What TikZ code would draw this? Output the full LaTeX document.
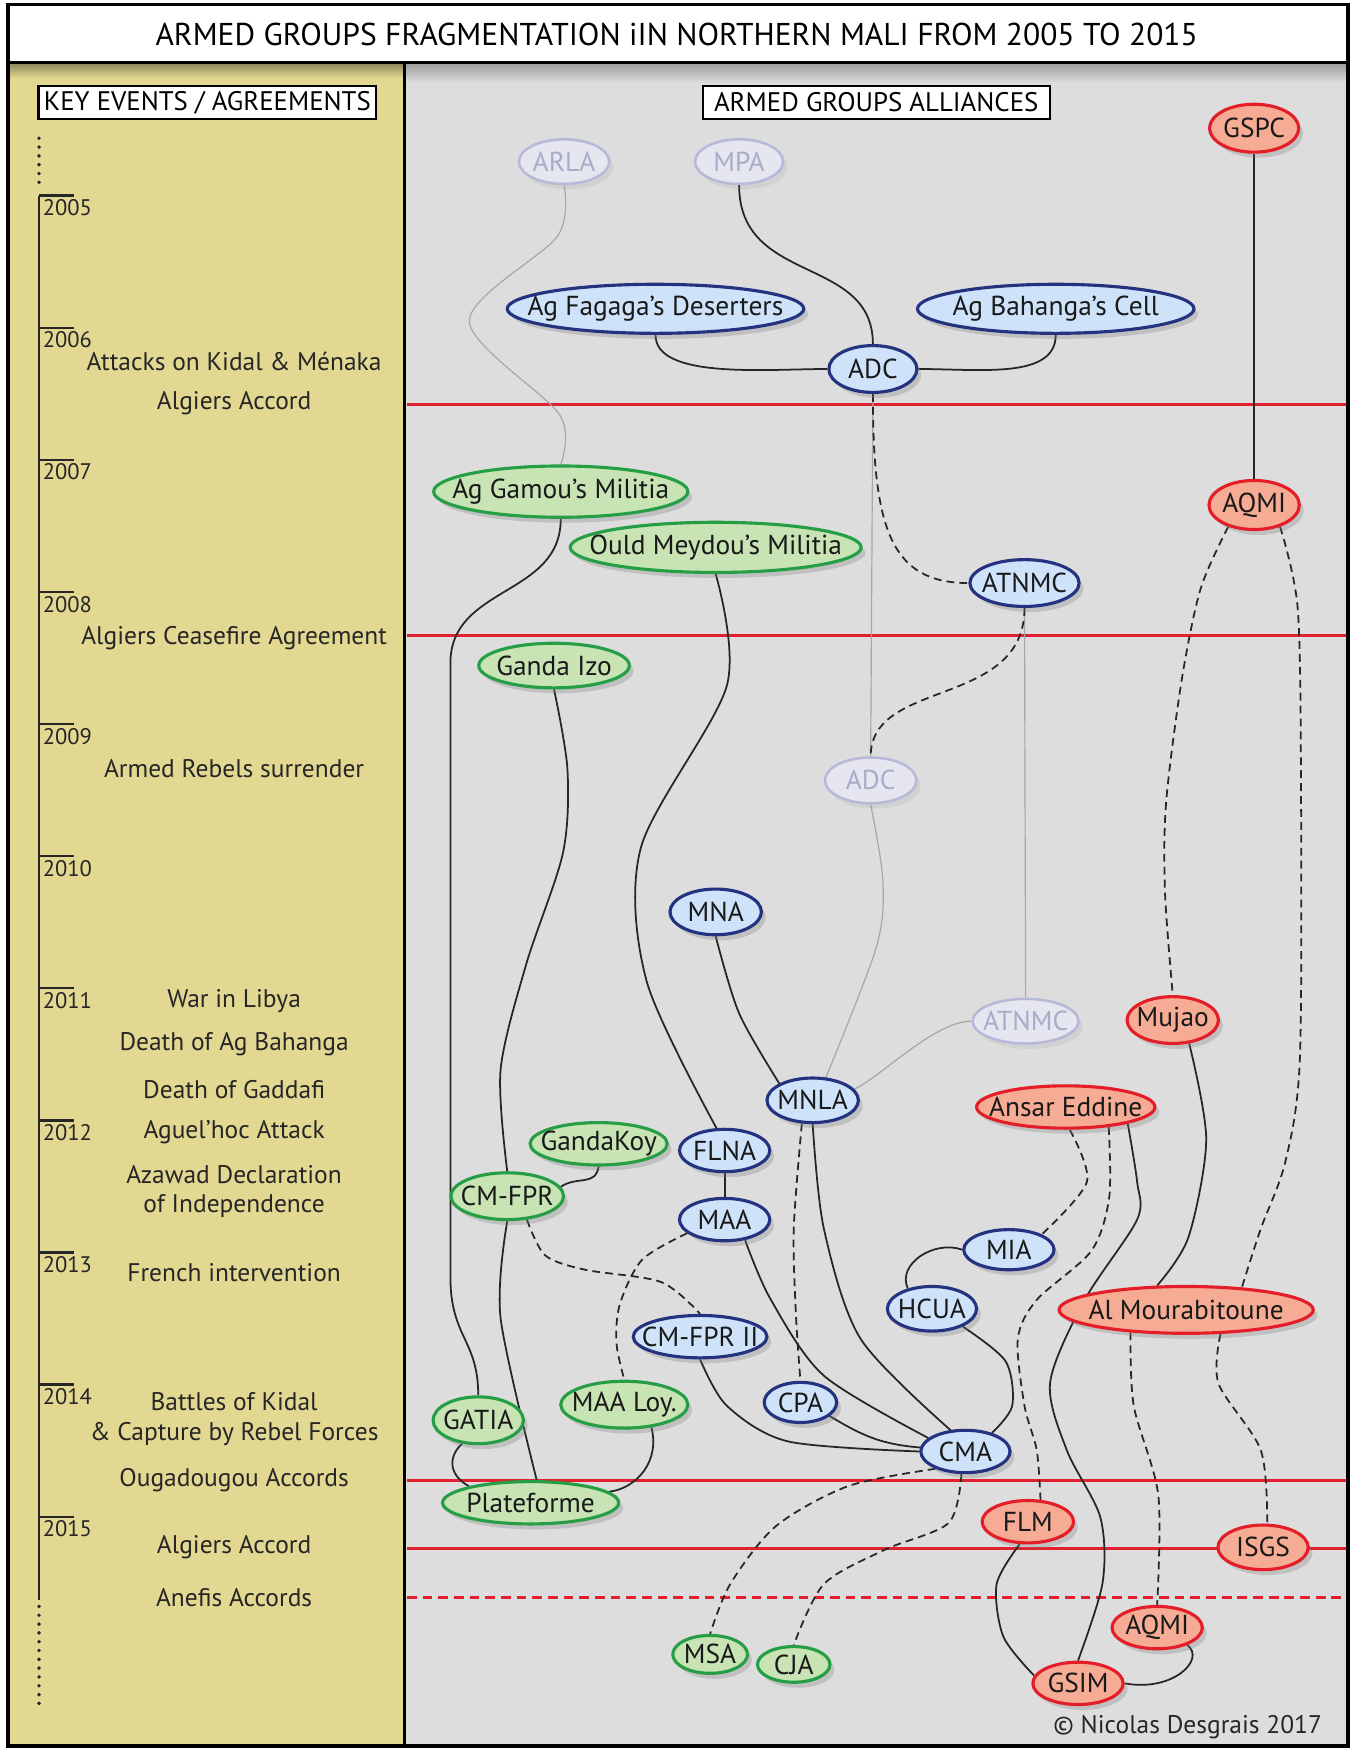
\documentclass[tikz,border=0pt]{standalone}
\usepackage{fontspec}
\setmainfont{PT Sans}
\usetikzlibrary{shapes.geometric,shadows}
\pgfdeclarelayer{panels}
\pgfdeclarelayer{links}
\pgfsetlayers{panels,links,main}

\definecolor{khaki}{RGB}{227,216,146}
\definecolor{panelgray}{RGB}{221,221,221}
\definecolor{blueborder}{RGB}{36,50,128}
\definecolor{bluefill}{RGB}{206,227,250}
\definecolor{greenborder}{RGB}{38,158,70}
\definecolor{greenfill}{RGB}{200,227,180}
\definecolor{redborder}{RGB}{228,30,40}
\definecolor{redfill}{RGB}{246,172,148}
\definecolor{fadeborder}{RGB}{182,186,216}
\definecolor{fadefill}{RGB}{229,230,240}
\definecolor{fadetext}{RGB}{168,172,200}
\definecolor{accordred}{RGB}{226,32,48}

\newcommand{\grplabel}[1]{\makebox[0pt]{#1}}

\tikzset{
  grp/.style={ellipse, inner sep=0pt, line width=1.6pt, text=black!90,
    font=\fontsize{14}{16}\selectfont},
  shadowed/.style={drop shadow={opacity=0.3, shadow xshift=2.2pt, shadow yshift=-2.8pt}},
  ovalsize/.style 2 args={minimum width=#1*0.02cm, minimum height=#2*0.02cm},
  bluegrp/.style={grp, shadowed, draw=blueborder, fill=bluefill},
  greengrp/.style={grp, shadowed, draw=greenborder, fill=greenfill},
  redgrp/.style={grp, shadowed, draw=redborder, fill=redfill},
  fadegrp/.style={grp, draw=fadeborder, fill=fadefill, text=fadetext, line width=1.3pt,
    drop shadow={opacity=0.12, shadow xshift=2.2pt, shadow yshift=-2.8pt}},
  link/.style={line width=0.9pt, black!85},
  dlink/.style={link, dash pattern=on 4pt off 2.6pt},
  flink/.style={line width=0.6pt, black!35},
  accord/.style={line width=1.4pt, accordred},
  event/.style={font=\fontsize{13}{15}\selectfont, text=black!85, align=center},
  yearlbl/.style={font=\fontsize{11.5}{13}\selectfont, text=black!85, anchor=base west, inner sep=0pt},
  headbox/.style={draw, fill=white, line width=1.1pt, inner sep=0pt, font=\fontsize{13.7}{16}\selectfont}
}

\begin{document}
\begin{tikzpicture}[x=0.02cm, y=-0.02cm]
\useasboundingbox (0,0) rectangle (1212,1568);

% Panels, accords and frame
\begin{pgfonlayer}{panels}
\fill[white] (0,0) rectangle (1212,1568);%
\fill[khaki] (7,56) rectangle (363,1566);%
\fill[panelgray] (363,56) rectangle (1209,1566);%
\shade[top color=black!40, bottom color=panelgray] (363,56) rectangle (1209,74);%
\shade[top color=khaki!60!black, bottom color=khaki] (7,56) rectangle (363,70);%
\draw[accord] (365,363) -- (1209,363);%
\draw[accord] (365,570) -- (1209,570);%
\draw[accord] (365,1328) -- (1209,1328);%
\draw[accord] (365,1389) -- (1209,1389);%
\draw[accord, dash pattern=on 5pt off 3pt] (365,1433) -- (1209,1433);%
\draw[line width=1.8pt] (363,56) -- (363,1566);%
\draw[line width=1.8pt] (7,4) rectangle (1209,1566);%
\end{pgfonlayer}

% Title
\draw[line width=1.8pt, fill=white] (7,4) rectangle (1209,56);%
\node[font=\fontsize{16.1}{19}\selectfont] (title) at (607,31) {ARMED GROUPS FRAGMENTATION iIN NORTHERN MALI FROM 2005 TO 2015};%

% Headers
\node[headbox, minimum width=303*0.02cm, minimum height=29*0.02cm] (keyhdr) at (186,92) {KEY EVENTS / AGREEMENTS};%
\node[headbox, minimum width=311*0.02cm, minimum height=29*0.02cm] (allyhdr) at (786,92) {ARMED GROUPS ALLIANCES};%

% Time line
\draw[line width=1.4pt, black!85] (35,175.5) -- (35,1435);%
\draw[line width=2pt, black!85, line cap=round, dash pattern=on 0pt off 4.5pt] (35,124) -- (35,171);%
\draw[line width=2pt, black!85, line cap=round, dash pattern=on 0pt off 4.5pt] (35,1441) -- (35,1531);%
\foreach \yr [count=\i from 0] in {2005,...,2015} {
  \draw[line width=1.2pt, black!85] (35,175.5+118.5*\i) -- +(31,0);%
  \node[yearlbl] (y\yr) at (38,193.5+118.5*\i) {\yr};%
}

% Key events
\node[event] (ev1) at (210,324) {Attacks on Kidal \& Ménaka};%
\node[event] (ev2) at (210,362) {Algiers Accord};%
\node[event] (ev3) at (210,572) {Algiers Ceasefire Agreement};%
\node[event] (ev4) at (210,689) {Armed Rebels surrender};%
\node[event] (ev5) at (210,898) {War in Libya};%
\node[event] (ev6) at (210,937) {Death of Ag Bahanga};%
\node[event] (ev7) at (210,977) {Death of Gaddafi};%
\node[event] (ev8) at (210,1016) {Aguel’hoc Attack};%
\node[event] (ev9) at (210,1069) {Azawad Declaration\\of Independence};%
\node[event] (ev10) at (210,1142) {French intervention};%
\node[event] (ev11) at (210,1273) {Battles of Kidal\\\& Capture by Rebel Forces};%
\node[event] (ev12) at (210,1328) {Ougadougou Accords};%
\node[event] (ev13) at (210,1388) {Algiers Accord};%
\node[event] (ev14) at (210,1433) {Anefis Accords};%

% Armed groups
\node[fadegrp, ovalsize={81}{40}] (arla) at (506,145) {\grplabel{ARLA}};%
\node[fadegrp, ovalsize={79}{40}] (mpa) at (663,145) {\grplabel{MPA}};%
\node[redgrp, ovalsize={80}{43}] (gspc) at (1125,115) {\grplabel{GSPC}};%
\node[bluegrp, ovalsize={266}{44}] (fagaga) at (588,277) {\grplabel{Ag Fagaga’s Deserters}};%
\node[bluegrp, ovalsize={248}{44}] (bahanga) at (947,277) {\grplabel{Ag Bahanga’s Cell}};%
\node[bluegrp, ovalsize={79}{42}] (adc) at (783,331) {\grplabel{ADC}};%
\node[greengrp, ovalsize={228}{46}] (gamou) at (503,441) {\grplabel{Ag Gamou’s Militia}};%
\node[redgrp, ovalsize={81}{44}] (aqmi) at (1125,453) {\grplabel{AQMI}};%
\node[greengrp, ovalsize={261}{45}] (meydou) at (642,491) {\grplabel{Ould Meydou’s Militia}};%
\node[bluegrp, ovalsize={98}{42}] (atnmc) at (919,523) {\grplabel{ATNMC}};%
\node[greengrp, ovalsize={135}{40}] (gandaizo) at (497,597) {\grplabel{Ganda Izo}};%
\node[fadegrp, ovalsize={82}{41}] (adcold) at (781,700) {\grplabel{ADC}};%
\node[bluegrp, ovalsize={82}{41}] (mna) at (642,818) {\grplabel{MNA}};%
\node[fadegrp, ovalsize={95}{40}] (atnmcold) at (920,916) {\grplabel{ATNMC}};%
\node[redgrp, ovalsize={82}{42}] (mujao) at (1052,915) {\grplabel{Mujao}};%
\node[bluegrp, ovalsize={82}{40}] (mnla) at (729,987) {\grplabel{MNLA}};%
\node[redgrp, ovalsize={160}{38}] (ansar) at (956,993) {\grplabel{Ansar Eddine}};%
\node[greengrp, ovalsize={123}{38}] (gandakoy) at (537,1026) {\grplabel{GandaKoy}};%
\node[bluegrp, ovalsize={81}{38}] (flna) at (650,1032) {\grplabel{FLNA}};%
\node[greengrp, ovalsize={101}{42}] (cmfpr) at (455,1073) {\grplabel{CM-FPR}};%
\node[bluegrp, ovalsize={81}{38}] (maa) at (650,1094) {\grplabel{MAA}};%
\node[bluegrp, ovalsize={81}{36}] (mia) at (905,1121) {\grplabel{MIA}};%
\node[bluegrp, ovalsize={80}{40}] (hcua) at (836,1174) {\grplabel{HCUA}};%
\node[redgrp, ovalsize={228}{42}] (mourab) at (1064,1175) {\grplabel{Al Mourabitoune}};%
\node[bluegrp, ovalsize={120}{38}] (cmfpr2) at (628,1199) {\grplabel{CM-FPR II}};%
\node[bluegrp, ovalsize={65}{36}] (cpa) at (718,1258) {\grplabel{CPA}};%
\node[greengrp, ovalsize={114}{42}] (maaloy) at (560,1260) {\grplabel{MAA Loy.}};%
\node[greengrp, ovalsize={81}{42}] (gatia) at (429,1274) {\grplabel{GATIA}};%
\node[bluegrp, ovalsize={80}{38}] (cma) at (866,1302) {\grplabel{CMA}};%
\node[greengrp, ovalsize={158}{38}] (plate) at (476,1348) {\grplabel{Plateforme}};%
\node[redgrp, ovalsize={82}{38}] (flm) at (922,1365) {\grplabel{FLM}};%
\node[redgrp, ovalsize={81}{40}] (isgs) at (1133,1388) {\grplabel{ISGS}};%
\node[redgrp, ovalsize={81}{38}] (aqmitwo) at (1038,1460) {\grplabel{AQMI}};%
\node[greengrp, ovalsize={67}{34}] (msa) at (637,1484) {\grplabel{MSA}};%
\node[greengrp, ovalsize={65}{32}] (cja) at (712,1493) {\grplabel{CJA}};%
\node[redgrp, ovalsize={81}{38}] (gsim) at (967,1510) {\grplabel{GSIM}};%

\node[anchor=base east, font=\fontsize{13}{15}\selectfont, text=black!85] (credit) at (1192,1555) {© Nicolas Desgrais 2017};%

% Links between groups
\begin{pgfonlayer}{links}
% faded links
\draw[flink] plot[smooth] coordinates {(arla.south) (500,212) (421,288) (502,372) (gamou.north)};%
\draw[flink] (adc.south) -- (adcold.north);%
\draw[flink] (atnmc.south) -- (atnmcold.north);%
\draw[flink] plot[smooth] coordinates {(adcold.south) (792,790) (786,850) (mnla.60)};%
\draw[flink] (mnla.15) .. controls +(25,-12) and +(-33,0) .. (atnmcold.west);%
% alliances 2005-2008
\draw[link] (mpa.south) .. controls +(0,90) and +(0,-80) .. (adc.north);%
\draw[link] (fagaga.south) .. controls +(0,40) and +(-55,0) .. (adc.west);%
\draw[link] (bahanga.south) .. controls +(0,40) and +(55,0) .. (adc.east);%
\draw[link] (gspc.south) -- (aqmi.north);%
\draw[dlink] (adc.south) .. controls +(0,120) and +(-70,0) .. (atnmc.west);%
\draw[dlink] (atnmc.south) .. controls +(0,90) and +(0,-70) .. (adcold.north);%
\draw[link] (gamou.south) .. controls +(0,70) and +(0,-70) .. (404,595) -- (404,1145) .. controls +(0,55) and +(0,-50) .. (gatia.north);%
\draw[link] plot[smooth] coordinates {(gandaizo.south) (509,690) (505,765) (472,865) (449,960) (cmfpr.north)};%
\draw[link] plot[smooth] coordinates {(meydou.south) (652,615) (575,760) (580,880) (flna.110)};%
% jihadist groups
\draw[dlink] plot[smooth] coordinates {(aqmi.-140) (1077,528) (1060,610) (1046,720) (1045,800) (mujao.north)};%
\draw[dlink] plot[smooth] coordinates {(aqmi.-40) (1164,545) (1167,700) (1166,950) (1153,1042) (1131,1102) (mourab.22)};%
\draw[link] plot[smooth] coordinates {(mujao.-55) (1082,1022) (1066,1110) (mourab.140)};%
\draw[link] plot[smooth] coordinates {(ansar.-15) (1020,1060) (1020,1094) (973,1166) (942,1240) (957,1301) (987,1361) (989,1420) (gsim.north)};%
\draw[dlink] plot[smooth] coordinates {(ansar.-80) (975,1060) (mia.25)};%
\draw[dlink] plot[smooth] coordinates {(ansar.-25) (995,1074) (979,1122) (930,1166) (913,1201) (919,1261) (930,1301) (flm.60)};%
\draw[dlink] plot[smooth] coordinates {(mourab.-158) (1017,1261) (1039,1341) (aqmitwo.north)};%
\draw[dlink] plot[smooth] coordinates {(mourab.-35) (1093,1241) (1131,1301) (isgs.80)};%
\draw[link] plot[smooth] coordinates {(flm.-110) (894,1421) (900,1468) (gsim.170)};%
\draw[link] (aqmitwo.-30) .. controls +(17,13) and +(43,8) .. (gsim.east);%
% rebel coalitions
\draw[link] plot[smooth] coordinates {(mna.south) (663,909) (mnla.north west)};%
\draw[link] plot[smooth] coordinates {(mnla.south) (739,1102) (772,1201) (cma.125)};%
\draw[dlink] plot[smooth] coordinates {(mnla.-115) (712,1102) (714,1180) (cpa.north)};%
\draw[link] (flna) -- (maa);%
\draw[link] plot[smooth] coordinates {(maa.-45) (691,1165) (739,1234) (cma.160)};%
\draw[dlink] plot[smooth] coordinates {(maa.-160) (576,1130) (556,1170) (553,1205) (maaloy.north)};%
\draw[link] plot[smooth] coordinates {(cmfpr2.south) (652,1261) (707,1293) (cma.west)};%
\draw[link] (cpa.-25) .. controls +(30,18) and +(-35,-3) .. (cma.175);%
\draw[link] plot[smooth] coordinates {(hcua.-30) (902,1221) (908,1261) (cma.35)};%
\draw[link] (mia.west) .. controls +(-25,-9) and +(-10,-22) .. (hcua.140);%
\draw[dlink] plot[smooth] coordinates {(cma.-150) (761,1333) (696,1369) (655,1421) (msa.north)};%
\draw[dlink] plot[smooth] coordinates {(cma.-100) (851,1366) (794,1390) (739,1421) (cja.north)};%
% pro-government coalition
\draw[link] (gandakoy.south) .. controls +(-3,18) and +(15,-10) .. (cmfpr.10);%
\draw[link] plot[smooth] coordinates {(cmfpr.south) (449,1182) (plate.75)};%
\draw[dlink] plot[smooth] coordinates {(cmfpr.-50) (489,1126) (525,1139) (593,1150) (cmfpr2.north)};%
\draw[link] (gatia.-125) .. controls +(-15,15) and +(-15,-8) .. (plate.165);%
\draw[link] (maaloy.-40) .. controls +(8,30) and +(25,-3) .. (plate.8);%
\end{pgfonlayer}
\end{tikzpicture}
\end{document}
